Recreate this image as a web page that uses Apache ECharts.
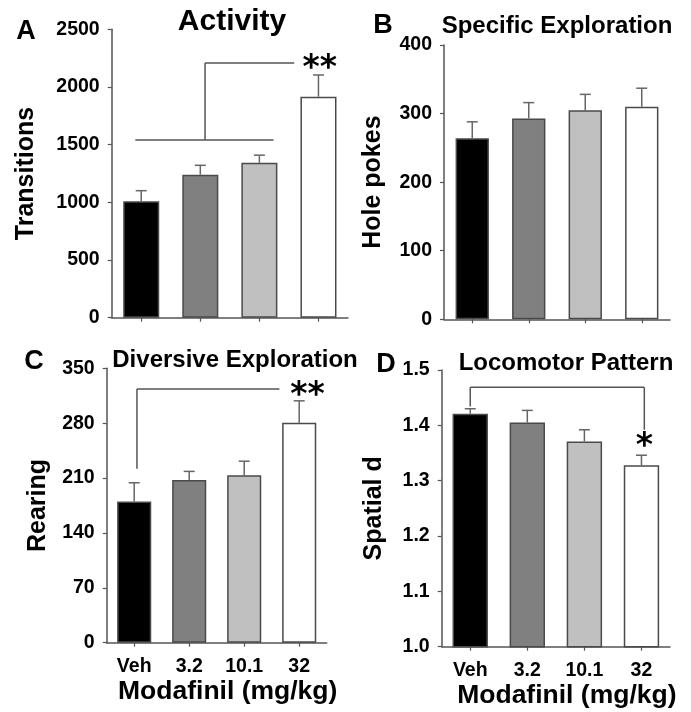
<!DOCTYPE html>
<html><head><meta charset="utf-8">
<script src="https://cdn.jsdelivr.net/npm/echarts@6/dist/echarts.min.js"></script>
<style>html,body{margin:0;padding:0;background:#fff}#c{width:691px;height:712px}</style>
</head><body><div id="c"></div>
<script>
const categories = ['Veh', '3.2', '10.1', '32'];
const activity = [1010, 1240, 1343, 1916];
const activityErr = [91, 81, 66, 188];
const holePokes = [264, 293, 305, 310];
const holePokesErr = [24, 23, 23, 27];
const rearing = [180, 207.5, 213.5, 280.5];
const rearingErr = [24, 11, 18, 28];
const spatialD = [1.421, 1.405, 1.371, 1.328];
const spatialDErr = [0.009, 0.022, 0.021, 0.018];
const barColors = ['#000000', '#808080', '#c0c0c0', '#ffffff'];
// significance brackets: segments [x1, y1, x2, y2] (x in category units)
const bracketA = [[-0.1, 1540, 2.24, 1540], [1.08, 1540, 1.08, 2208], [1.08, 2208, 2.59, 2208]];
const bracketC = [[0.05, 222, 0.05, 323.5], [0.05, 323.5, 2.64, 323.5]];
const bracketD = [[0, 1.434, 0, 1.469], [0, 1.469, 3.05, 1.469], [3.05, 1.469, 3.05, 1.392]];
const starsA = [[3.02, 2208, '**']];
const starsC = [[3.15, 322, '**']];
const starsD = [[3.05, 1.371, '*']];

const FONT = 'Liberation Sans, Arial, sans-serif';
const AXIS_COLOR = '#555';
const ERR_COLOR = '#666';

const chart = echarts.init(document.getElementById('c'), null, {renderer: 'canvas'});

const grids = [
  {left: 111.7, top: 29.3, width: 236.3, height: 288.4},
  {left: 444, top: 45, width: 226, height: 274.3},
  {left: 106.7, top: 368.3, width: 220, height: 274.4},
  {left: 441.7, top: 370, width: 228.3, height: 276.7}
];

function xAxisDef(i, showLabels) {
  return {
    type: 'category', gridIndex: i, data: categories,
    axisLine: {lineStyle: {color: AXIS_COLOR, width: 1.5}},
    axisTick: {show: true, alignWithLabel: true, length: 4, lineStyle: {color: AXIS_COLOR, width: 1.2}},
    axisLabel: {show: showLabels, color: '#000', fontFamily: FONT, fontWeight: 'bold', fontSize: 19.5, margin: 14},
    name: showLabels ? 'Modafinil (mg/kg)' : '',
    nameLocation: 'middle', nameGap: 35,
    nameTextStyle: {color: '#000', fontFamily: FONT, fontWeight: 'bold', fontSize: 26.5, padding: [0, 0, 0, 22]}
  };
}
function yAxisDef(i, min, max, interval, name, nameGap, fmt) {
  return {
    type: 'value', gridIndex: i, min: min, max: max, interval: interval,
    splitLine: {show: false},
    axisLine: {show: true, lineStyle: {color: AXIS_COLOR, width: 1.5}},
    axisTick: {show: true, length: 4, lineStyle: {color: AXIS_COLOR, width: 1.2}},
    axisLabel: {color: '#000', fontFamily: FONT, fontWeight: 'bold', fontSize: 19.5, margin: 12, formatter: fmt},
    name: name, nameLocation: 'middle', nameGap: nameGap,
    nameTextStyle: {color: '#000', fontFamily: FONT, fontWeight: 'bold', fontSize: 25}
  };
}

function barSeries(i, values, gap) {
  return {
    type: 'bar', xAxisIndex: i, yAxisIndex: i, barCategoryGap: gap,
    data: values.map((v, k) => ({value: v, itemStyle: {color: barColors[k]}})),
    itemStyle: {borderColor: '#4a4a4a', borderWidth: 1.5},
    emphasis: {disabled: true}, silent: true, animation: false, z: 2
  };
}

function errSeries(i, values, errs) {
  return {
    type: 'custom', xAxisIndex: i, yAxisIndex: i, animation: false, silent: true, z: 3,
    data: values.map((v, k) => [k, v, errs[k]]),
    renderItem: function (params, api) {
      const x = api.value(0), v = api.value(1), e = api.value(2);
      const p0 = api.coord([x, v]);
      const p1 = api.coord([x, v + e]);
      const hw = 5.5;
      const st = {stroke: ERR_COLOR, lineWidth: 1.5};
      return {type: 'group', children: [
        {type: 'line', shape: {x1: p0[0], y1: p0[1], x2: p1[0], y2: p1[1]}, style: st},
        {type: 'line', shape: {x1: p1[0] - hw, y1: p1[1], x2: p1[0] + hw, y2: p1[1]}, style: st}
      ]};
    }
  };
}

function bracketSeries(i, segs) {
  return {
    type: 'custom', xAxisIndex: i, yAxisIndex: i, animation: false, silent: true, z: 4,
    dimensions: [{name: 'x1', type: 'float'}, {name: 'y1', type: 'float'}, {name: 'x2', type: 'float'}, {name: 'y2', type: 'float'}],
    encode: {x: ['x1', 'x2'], y: ['y1', 'y2']},
    data: segs,
    renderItem: function (params, api) {
      const band = api.size([1, 0])[0];
      const a = api.coord([0, api.value(1)]);
      const b = api.coord([0, api.value(3)]);
      return {type: 'line',
        shape: {x1: a[0] + api.value(0) * band, y1: a[1], x2: b[0] + api.value(2) * band, y2: b[1]},
        style: {stroke: '#555', lineWidth: 1.5}};
    }
  };
}

function starSeries(i, stars) {
  return {
    type: 'custom', xAxisIndex: i, yAxisIndex: i, animation: false, silent: true, z: 5,
    dimensions: [{name: 'fx', type: 'float'}, {name: 'y', type: 'float'}],
    encode: {x: 'fx', y: 'y'},
    data: stars.map(s => [s[0], s[1]]),
    renderItem: function (params, api) {
      const band = api.size([1, 0])[0];
      const a = api.coord([0, api.value(1)]);
      return {type: 'text',
        style: {text: stars[params.dataIndex][2], x: a[0] + api.value(0) * band, y: a[1] + 6,
          align: 'center', verticalAlign: 'middle',
          font: 'bold 33px "DejaVu Sans", sans-serif', fill: '#000'}};
    }
  };
}

function label(text, x, y, size, rotate) {
  return {type: 'text', x: x, y: y, rotation: rotate || 0,
    style: {text: text, fill: '#000', font: 'bold ' + size + 'px ' + FONT, align: 'center', verticalAlign: 'middle'}};
}

const plain = v => String(v);

const option = {
  backgroundColor: '#ffffff',
  animation: false,
  grid: grids,
  xAxis: [xAxisDef(0, false), xAxisDef(1, false), xAxisDef(2, true), xAxisDef(3, true)],
  yAxis: [
    yAxisDef(0, 0, 2500, 500, 'Transitions', 73, plain),
    yAxisDef(1, 0, 400, 100, 'Hole pokes', 58, plain),
    yAxisDef(2, 0, 350, 70, 'Rearing', 56, plain),
    yAxisDef(3, 1.0, 1.5, 0.1, 'Spatial d', 55, v => v.toFixed(1))
  ],
  graphic: [
    label('A', 26, 32, 27),
    label('B', 383, 26, 27),
    label('C', 34, 362, 27),
    label('D', 386, 365, 27),
    label('Activity', 232, 22, 30),
    label('Specific Exploration', 557, 26, 24),
    label('Diversive Exploration', 235, 360, 24),
    label('Locomotor Pattern', 566, 363, 24)
  ],
  series: [
    barSeries(0, activity, '39%'), errSeries(0, activity, activityErr),
    barSeries(1, holePokes, '41%'), errSeries(1, holePokes, holePokesErr),
    barSeries(2, rearing, '38%'), errSeries(2, rearing, rearingErr),
    barSeries(3, spatialD, '38%'), errSeries(3, spatialD, spatialDErr),
    bracketSeries(0, bracketA), starSeries(0, starsA),
    bracketSeries(2, bracketC), starSeries(2, starsC),
    bracketSeries(3, bracketD), starSeries(3, starsD)
  ]
};
chart.setOption(option);
</script>
</body></html>
